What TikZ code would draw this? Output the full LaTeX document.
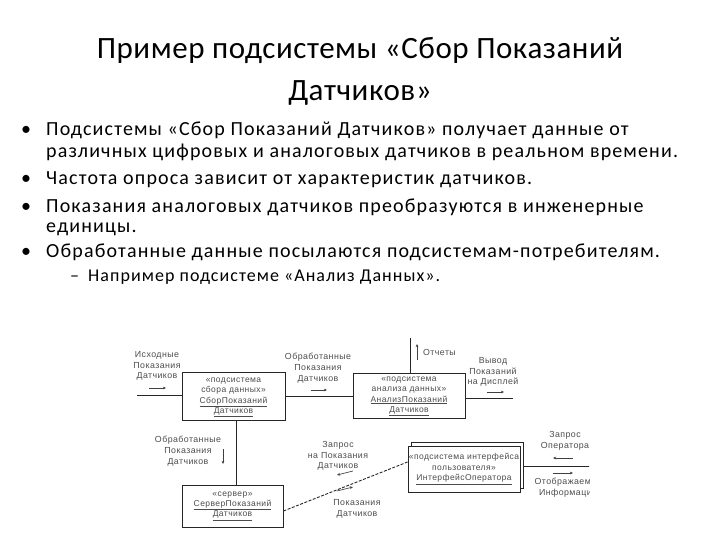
\documentclass[tikz,border=0pt]{standalone}
\usepackage{fontspec}
\setmainfont{Carlito}
\newfontfamily\titlefont[LetterSpace=1.8]{Carlito}
\newfontfamily\bodyfont[LetterSpace=5.8]{Carlito}
\newfontfamily\diagfont[LetterSpace=5]{Liberation Sans}
\usetikzlibrary{arrows.meta}
\tikzset{
  titletext/.style={font=\titlefont\fontsize{31}{36}\selectfont, anchor=base},
  bodytext/.style={font=\bodyfont\fontsize{20}{24}\selectfont, anchor=base west, inner sep=0pt},
  subtext/.style={font=\bodyfont\fontsize{18}{21}\selectfont, anchor=base west, inner sep=0pt},
  dlabel/.style={font=\diagfont\fontsize{8.8}{10.8}\selectfont, text=black!70, align=center, inner sep=0pt},
  boxnode/.style={draw=black!85, line width=0.9pt, fill=white, inner sep=0pt},
  boxtext/.style={font=\diagfont\fontsize{8.5}{10.3}\selectfont, text=black!70, align=center, inner sep=0pt},
  conn/.style={draw=black!85, line width=0.9pt},
  dashconn/.style={draw=black!85, line width=0.9pt, dash pattern=on 3pt off 1.5pt},
  smallarrow/.style={draw=black!75, line width=0.7pt, -{Stealth[length=3.2pt,width=2.8pt]}}
}
\begin{document}
\begin{tikzpicture}[x=1pt,y=-1pt]
\useasboundingbox (0,0) rectangle (720,540);
% title
\node[titletext] (t1) at (360,59) {Пример подсистемы «Сбор Показаний};
\node[titletext] (t2) at (360,101) {Датчиков»};
% bullets
\node[bodytext] (b1) at (21,136) {•};
\node[bodytext] (l1) at (46,136) {Подсистемы «Сбор Показаний Датчиков» получает данные от};
\node[bodytext] (l2) at (46,158) {различных цифровых и аналоговых датчиков в реальном времени.};
\node[bodytext] (b2) at (21,185) {•};
\node[bodytext] (l3) at (46,185) {Частота опроса зависит от характеристик датчиков.};
\node[bodytext] (b3) at (21,212) {•};
\node[bodytext] (l4) at (46,212) {Показания аналоговых датчиков преобразуются в инженерные};
\node[bodytext] (l5) at (46,233) {единицы.};
\node[bodytext] (b4) at (21,257) {•};
\node[bodytext] (l6) at (46,257) {Обработанные данные посылаются подсистемам-потребителям.};
\node[subtext] (d1) at (70,281) {–};
\node[subtext] (l7) at (88,281) {Например подсистеме «Анализ Данных».};

% boxes
\node[boxnode, minimum width=103pt, minimum height=48pt] (box1) at (233.5,396) {};
\node[boxtext] (box1t) at ([yshift=-1.5pt]box1.center) {«подсистема\\сбора данных»\\\underline{СборПоказаний}\\\underline{Датчиков}};
\node[boxnode, minimum width=112pt, minimum height=45pt] (box2) at (409,395.5) {};
\node[boxtext] (box2t) at ([yshift=-1pt]box2.center) {«подсистема\\анализа данных»\\\underline{АнализПоказаний}\\\underline{Датчиков}};
\node[boxnode, minimum width=101pt, minimum height=42pt] (box3) at (232.5,506) {};
\node[boxtext] (box3t) at (box3.center) {«сервер»\\\underline{СерверПоказаний}\\\underline{Датчиков}};
\node[boxnode, minimum width=112pt, minimum height=46pt] (box4b) at (467,465) {};
\node[boxnode, minimum width=112pt, minimum height=46pt] (box4) at (464,469) {};
\node[boxtext] (box4t) at (box4.center) {«подсистема интерфейса\\пользователя»\\\underline{ИнтерфейсОператора}};

% connectors
\coordinate (in1) at (137,395);
\draw[conn] (in1) -- (in1 -| box1.west);
\draw[conn] (box1.east) -- (box1.east -| box2.west);
\coordinate (rep) at (410,338);
\draw[conn] (box2.north -| rep) -- (rep);
\coordinate (disp) at (513,398);
\draw[conn] (disp -| box2.east) -- (disp);
\coordinate (vx) at (236,0);
\draw[conn] (box1.south -| vx) -- (box3.north -| vx);
\draw[dashconn] ([yshift=-5pt]box3.east) -- ([yshift=7pt]box4.west);
\coordinate (op) at (600,466);

% labels
\node[dlabel] (lab1) at (157,366) {Исходные\\Показания\\Датчиков};
\coordinate (a1s) at (149,388); \coordinate (a1e) at (166,388);
\draw[smallarrow] (a1s) -- (a1e);
\node[dlabel] (lab2) at (318,368) {Обработанные\\Показания\\Датчиков};
\coordinate (a2s) at (311,390); \coordinate (a2e) at (327,390);
\draw[smallarrow] (a2s) -- (a2e);
\node[dlabel, anchor=west] (lab3) at (423,352) {Отчеты};
\coordinate (a3s) at (417,360); \coordinate (a3e) at (417,344);
\draw[smallarrow] (a3s) -- (a3e);
\node[dlabel] (lab4) at (493,372) {Вывод\\Показаний\\на Дисплей};
\coordinate (a4s) at (487,392); \coordinate (a4e) at (504,392);
\draw[smallarrow] (a4s) -- (a4e);
\node[dlabel] (lab5) at (188,451) {Обработанные\\Показания\\Датчиков};
\coordinate (a5s) at (223,449); \coordinate (a5e) at (223,464);
\draw[smallarrow] (a5s) -- (a5e);
\node[dlabel] (lab6) at (338,456) {Запрос\\на Показания\\Датчиков};
\coordinate (a6s) at (353,471); \coordinate (a6e) at (337,475);
\draw[smallarrow] (a6s) -- (a6e);
\coordinate (a7s) at (337,491); \coordinate (a7e) at (353,487);
\draw[smallarrow] (a7s) -- (a7e);
\node[dlabel] (lab7) at (357,508.5) {Показания\\Датчиков};
\begin{scope}
\clip (0,300) rectangle (589,540);
\draw[conn] (op -| box4b.east) -- (op);
\node[dlabel] (lab8) at (565,441) {Запрос\\Оператора};
\coordinate (a8s) at (573,458); \coordinate (a8e) at (553,458);
\draw[smallarrow] (a8s) -- (a8e);
\coordinate (a9s) at (553,473); \coordinate (a9e) at (573,473);
\draw[smallarrow] (a9s) -- (a9e);
\node[dlabel] (lab9) at (568,487.5) {Отображаемая\\Информация};
\end{scope}
\end{tikzpicture}
\end{document}
